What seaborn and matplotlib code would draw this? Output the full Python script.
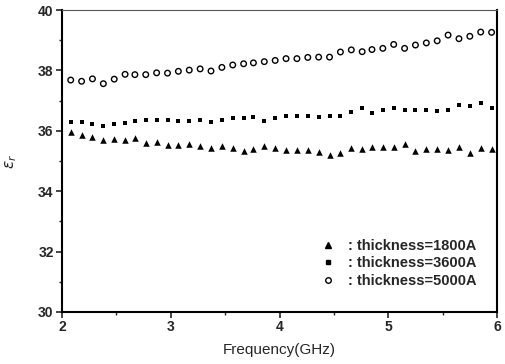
import matplotlib
matplotlib.use("Agg")
import matplotlib.pyplot as plt
import seaborn as sns
import pandas as pd
from matplotlib.lines import Line2D
from matplotlib.ticker import MultipleLocator

# frequency points (GHz)
freq = [2.08, 2.18, 2.28, 2.38, 2.48, 2.58, 2.67, 2.77, 2.87, 2.97,
        3.07, 3.17, 3.27, 3.37, 3.47, 3.57, 3.67, 3.76, 3.86, 3.96,
        4.06, 4.16, 4.26, 4.36, 4.46, 4.56, 4.66, 4.76, 4.85, 4.95,
        5.05, 5.15, 5.25, 5.35, 5.45, 5.55, 5.65, 5.75, 5.85, 5.95]

eps_1800 = [35.97, 35.85, 35.78, 35.70, 35.73, 35.71, 35.77, 35.60, 35.63, 35.54,
            35.54, 35.55, 35.49, 35.42, 35.51, 35.42, 35.34, 35.40, 35.50, 35.43,
            35.35, 35.35, 35.36, 35.31, 35.20, 35.27, 35.42, 35.39, 35.45, 35.47,
            35.47, 35.56, 35.33, 35.40, 35.41, 35.36, 35.45, 35.27, 35.43, 35.40]

eps_3600 = [36.29, 36.29, 36.22, 36.17, 36.24, 36.27, 36.33, 36.35, 36.35, 36.35,
            36.31, 36.31, 36.37, 36.30, 36.36, 36.43, 36.41, 36.47, 36.33, 36.42,
            36.49, 36.50, 36.49, 36.47, 36.50, 36.50, 36.61, 36.75, 36.58, 36.69,
            36.75, 36.69, 36.70, 36.70, 36.65, 36.70, 36.84, 36.82, 36.92, 36.75]

eps_5000 = [37.68, 37.64, 37.72, 37.56, 37.71, 37.87, 37.86, 37.86, 37.92, 37.91,
            37.97, 38.01, 38.05, 37.98, 38.10, 38.18, 38.22, 38.25, 38.29, 38.33,
            38.39, 38.39, 38.43, 38.44, 38.44, 38.61, 38.68, 38.62, 38.69, 38.73,
            38.86, 38.73, 38.84, 38.91, 38.98, 39.17, 39.05, 39.13, 39.27, 39.26]

labels = [": thickness=1800A", ": thickness=3600A", ": thickness=5000A"]

sns.set_style("ticks")
plt.rcParams["font.family"] = ["Liberation Sans", "DejaVu Sans"]

fig = plt.figure(figsize=(5.05, 3.64), dpi=100)
ax = fig.add_axes([0.1228, 0.1429, 0.8614, 0.8296])

df = pd.DataFrame({"freq": freq, "t1800": eps_1800, "t3600": eps_3600, "t5000": eps_5000})

sns.scatterplot(data=df, x="freq", y="t1800", marker="^", color="black",
                s=22, linewidth=0, ax=ax)
sns.scatterplot(data=df, x="freq", y="t3600", marker="s", color="black",
                s=12, linewidth=0, ax=ax)
sns.scatterplot(data=df, x="freq", y="t5000", marker="o", facecolor="none",
                edgecolor="black", s=16, linewidth=1.0, ax=ax)

ax.set_xlim(2, 6)
ax.set_ylim(30, 40)
ax.xaxis.set_major_locator(MultipleLocator(1))
ax.xaxis.set_minor_locator(MultipleLocator(0.5))
ax.yaxis.set_major_locator(MultipleLocator(2))
ax.yaxis.set_minor_locator(MultipleLocator(1))
ax.tick_params(which="major", direction="out", length=4, width=1.2,
               labelsize=10, pad=2)
ax.tick_params(which="minor", direction="out", length=2.5, width=1.0)
for lab in ax.get_xticklabels() + ax.get_yticklabels():
    lab.set_fontweight("bold")

for side in ["left", "bottom", "right"]:
    ax.spines[side].set_linewidth(1.5)
    ax.spines[side].set_color("black")
ax.spines["top"].set_linewidth(0.8)
ax.spines["top"].set_color("#555555")

ax.set_xlabel("Frequency(GHz)", fontsize=11, labelpad=6)
ax.set_ylabel(r"$\varepsilon_r$", fontsize=11, labelpad=14)

handles = [
    Line2D([], [], marker="^", color="black", linestyle="none", markersize=5),
    Line2D([], [], marker="s", color="black", linestyle="none", markersize=3.5),
    Line2D([], [], marker="o", markerfacecolor="none", markeredgecolor="black",
           linestyle="none", markersize=4, markeredgewidth=1.0),
]
ax.legend(handles, labels, loc="lower left", bbox_to_anchor=(0.556, 0.036),
          frameon=False, prop={"size": 10.5, "weight": "bold"},
          handletextpad=0.6, labelspacing=0.25, handlelength=1.5)

fig.savefig("out.png", dpi=100)
